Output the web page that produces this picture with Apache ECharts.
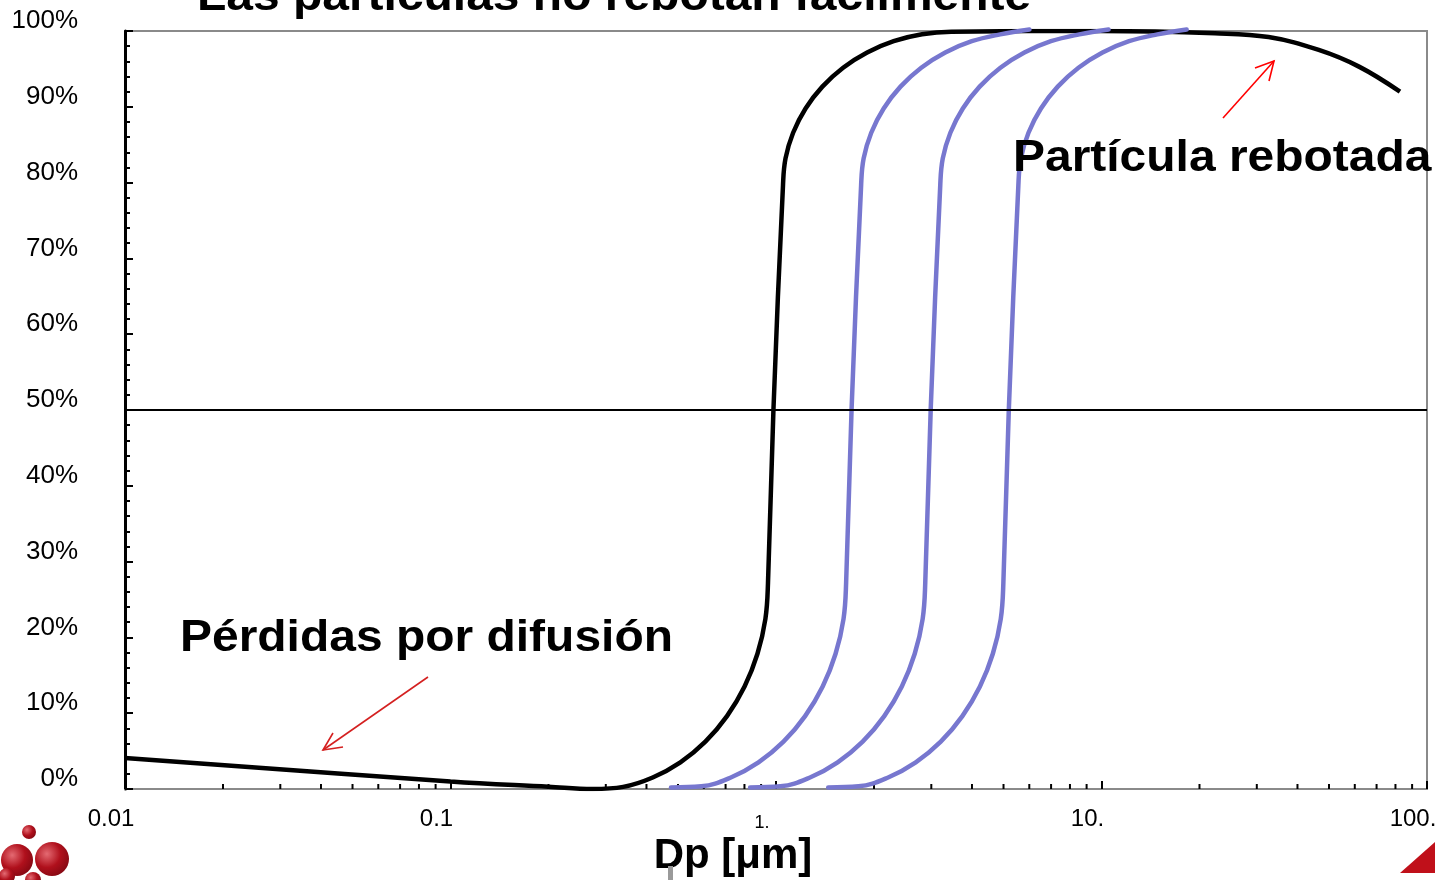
<!DOCTYPE html>
<html lang="es">
<head>
    <meta charset="UTF-8">
    <title>Las partículas no rebotan fácilmente</title>
    <script type="text/javascript" src="https://cdn.jsdelivr.net/npm/echarts@6/dist/echarts.min.js"></script>
    <style type="text/css">
        html,body{margin:0;padding:0;background:#fff;}
        #main{width:1435px;height:880px;}
    </style>
</head>
<body>
<div id="main"></div>
<script type="text/javascript">
    // curva negra (pérdidas por difusión + rebote)
    var blackX = [0.01, 0.1, 0.2, 0.2737, 0.3392, 0.4181, 0.5084, 0.6068, 0.7070, 0.8006, 0.8771, 0.9277, 0.9449, 0.982, 1.0508, 1.0696, 1.1287, 1.2326, 1.3883, 1.6077, 1.9055, 2.2987, 2.8098, 3.4556, 10, 22.3, 32.6, 46.5, 61.8, 82.6];
    var blackY = [4.1, 1.0, 0.3, 0, 0.28, 1.52, 3.52, 6.25, 9.62, 13.52, 17.84, 22.43, 27.18, 50, 79.68, 83.19, 86.58, 89.78, 92.66, 95.15, 97.16, 98.65, 99.56, 99.9, 100, 99.7, 99.2, 97.5, 95.3, 92.0];
    // curvas azules (etapas siguientes)
    var blue1X = [0.4756, 0.5895, 0.7266, 0.8835, 1.0545, 1.2286, 1.3913, 1.5242, 1.6122, 1.6421, 1.7065, 1.8261, 1.8588, 1.9615, 2.1420, 2.4126, 2.7939, 3.3114, 3.9947, 4.8829, 6.0052];
    var blue2X = [0.8325, 1.0318, 1.2718, 1.5465, 1.8458, 2.1506, 2.4353, 2.6680, 2.8219, 2.8742, 2.9870, 3.1963, 3.2535, 3.4333, 3.7493, 4.2229, 4.8903, 5.7961, 6.9922, 8.5468, 10.511];
    var blue3X = [1.4467, 1.7929, 2.2100, 2.6873, 3.2074, 3.7370, 4.2317, 4.6361, 4.9035, 4.9945, 5.1906, 5.5542, 5.6536, 5.9660, 6.5152, 7.3381, 8.4977, 10.072, 12.150, 14.852, 18.265];
    var blueY  = [0.2, 0.35, 1.52, 3.52, 6.25, 9.62, 13.52, 17.84, 22.43, 27.18, 50, 79.68, 83.19, 86.58, 89.78, 92.66, 95.15, 97.16, 98.65, 99.56, 100.2];
    // etiquetas del eje x (una por década)
    var xTickLabels = ['0.01', '0.1', '1.', '10.', '100.'];
    var xMinorMult = [2, 3, 4, 5, 6, 7, 8, 9];
    var xDecades = [0.01, 0.1, 1, 10];

    function zip(xs, ys) {
        var out = [];
        for (var i = 0; i < xs.length; i++) out.push([xs[i], ys[i]]);
        return out;
    }
    // marcas menores del eje log (2..9 por década)
    var minorTicks = [];
    for (var d = 0; d < xDecades.length; d++) {
        for (var m = 0; m < xMinorMult.length; m++) minorTicks.push([xDecades[d] * xMinorMult[m], 0]);
    }

    var font = 'Liberation Sans, Arial, sans-serif';
    var blue = '#7777cf';
    function sphere() {
        return new echarts.graphic.RadialGradient(0.35, 0.35, 0.8, [
            {offset: 0, color: '#e46a72'}, {offset: 0.5, color: '#b0101c'}, {offset: 1, color: '#7a0610'}
        ]);
    }

    var myChart = echarts.init(document.getElementById('main'));
    var option = {
        animation: false,
        grid: {left: 125, right: 8, top: 31, bottom: 91, show: true, borderColor: '#8a8a8a', borderWidth: 2, outerBoundsMode: 'none'},
        xAxis: {
            type: 'log', logBase: 10, min: 0.01, max: 100,
            axisLine: {lineStyle: {color: '#8a8a8a', width: 2}},
            axisTick: {inside: true, length: 8, lineStyle: {color: '#000', width: 2}},
            splitLine: {show: false},
            axisLabel: {
                color: '#000', fontFamily: font, fontSize: 24, margin: 18,
                padding: [0, 28, 0, 0],
                showMinLabel: true, showMaxLabel: true,
                formatter: function (v) {
                    var idx = Math.round(Math.log10(v)) + 2;
                    if (idx === 2) return '{s|' + xTickLabels[idx] + '}';
                    return xTickLabels[idx];
                },
                rich: {s: {fontSize: 18, fontFamily: font, color: '#000', padding: [7, 0, 0, 0]}}
            }
        },
        yAxis: {
            type: 'value', min: 0, max: 100, interval: 10,
            axisLine: {show: true, lineStyle: {color: '#000', width: 3}},
            axisTick: {inside: true, length: 8, lineStyle: {color: '#000', width: 2}},
            minorTick: {show: true, splitNumber: 5, length: 5, lineStyle: {color: '#000', width: 2}},
            splitLine: {show: false},
            axisLabel: {
                color: '#000', fontFamily: font, fontSize: 26, lineHeight: 20, margin: 47, verticalAlign: 'bottom',
                formatter: '{value}%'
            }
        },
        series: [
            {
                type: 'custom', silent: true, z: 1,
                data: minorTicks,
                renderItem: function (params, api) {
                    var p = api.coord([api.value(0), 0]);
                    return {type: 'line', shape: {x1: p[0], y1: p[1], x2: p[0], y2: p[1] - 5}, style: {stroke: '#000', lineWidth: 2}};
                }
            },
            {
                type: 'line', data: zip(blackX, blackY), showSymbol: false, smooth: 0.4, z: 3,
                lineStyle: {color: '#000', width: 4.5}, itemStyle: {color: '#000'},
                markLine: {
                    silent: true, symbol: ['none', 'none'], label: {show: false},
                    lineStyle: {color: '#000', width: 2, type: 'solid'},
                    data: [{yAxis: 50}]
                }
            },
            {type: 'line', data: zip(blue1X, blueY), showSymbol: false, smooth: 0.4, z: 4, clip: false, lineStyle: {color: blue, width: 4.5, cap: 'round'}, itemStyle: {color: blue}},
            {type: 'line', data: zip(blue2X, blueY), showSymbol: false, smooth: 0.4, z: 4, clip: false, lineStyle: {color: blue, width: 4.5, cap: 'round'}, itemStyle: {color: blue}},
            {type: 'line', data: zip(blue3X, blueY), showSymbol: false, smooth: 0.4, z: 4, clip: false, lineStyle: {color: blue, width: 4.5, cap: 'round'}, itemStyle: {color: blue}}
        ],
        graphic: [
            {type: 'text', x: 197, y: -2, scaleX: 1.09, style: {text: 'Las partículas no rebotan fácilmente', font: 'bold 44px ' + font, fill: '#000', align: 'left', verticalAlign: 'middle'}},
            {type: 'text', x: 180, y: 639, scaleX: 1.09, z: 10, style: {text: 'Pérdidas por difusión', font: 'bold 44px ' + font, fill: '#000', align: 'left', verticalAlign: 'middle'}},
            {type: 'text', x: 1013, y: 159, scaleX: 1.09, z: 10, style: {text: 'Partícula rebotada', font: 'bold 44px ' + font, fill: '#000', align: 'left', verticalAlign: 'middle'}},
            {type: 'text', x: 733, y: 856, style: {text: 'Dp [μm]', font: 'bold 42px ' + font, fill: '#000', align: 'center', verticalAlign: 'middle'}},
            // flechas rojas
            {type: 'polyline', shape: {points: [[428, 677], [323, 750]]}, style: {stroke: '#d42020', lineWidth: 1.6, fill: null}},
            {type: 'polyline', shape: {points: [[333, 733], [323, 750], [343, 747]]}, style: {stroke: '#d42020', lineWidth: 1.6, fill: null}},
            {type: 'polyline', shape: {points: [[1223, 118], [1274, 61]]}, style: {stroke: '#ff0000', lineWidth: 1.6, fill: null}},
            {type: 'polyline', shape: {points: [[1255, 68], [1274, 61], [1269, 81]]}, style: {stroke: '#ff0000', lineWidth: 1.6, fill: null}},
            // logo
            {type: 'circle', shape: {cx: 29, cy: 832, r: 7}, style: {fill: sphere()}},
            {type: 'circle', shape: {cx: 52, cy: 859, r: 17}, style: {fill: sphere()}},
            {type: 'circle', shape: {cx: 17, cy: 860, r: 16}, style: {fill: sphere()}},
            {type: 'circle', shape: {cx: 7, cy: 876, r: 8}, style: {fill: sphere()}},
            {type: 'circle', shape: {cx: 33, cy: 880, r: 8}, style: {fill: sphere()}},
            {type: 'polygon', shape: {points: [[1400, 873], [1435, 842], [1435, 873]]}, style: {fill: '#c0101a'}},
            {type: 'rect', shape: {x: 668, y: 866, width: 5, height: 14}, style: {fill: '#9a9a9a'}}
        ]
    };
    myChart.setOption(option);
</script>
</body>
</html>
